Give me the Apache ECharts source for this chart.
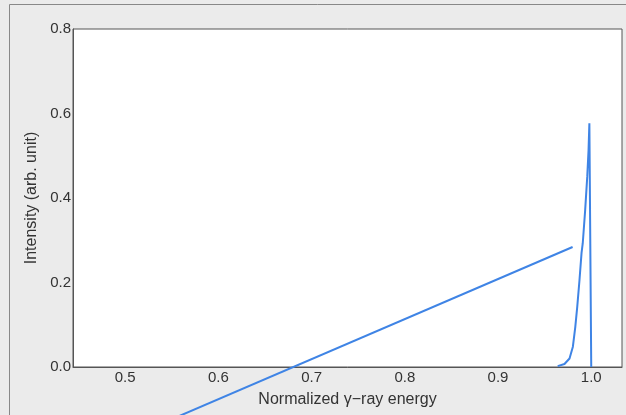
<!DOCTYPE html>
<html>
<head>
<meta charset="utf-8">
<script src="https://cdn.jsdelivr.net/npm/echarts@6/dist/echarts.min.js"></script>
<style>
  html, body { margin: 0; padding: 0; background: #ebebeb; }
  #chart { width: 626px; height: 415px; }
</style>
</head>
<body>
<div id="chart"></div>
<script>
// tick labels
const xTicks = [0.5, 0.6, 0.7, 0.8, 0.9, 1.0]
const yTicks = [0.0, 0.2, 0.4, 0.6, 0.8]

// straight line (extends below the axis)
const lineX = [0.52, 0.98]
const lineY = [-0.152, 0.284]

// sharp peak near 1.0
const peakX = [0.964, 0.9713, 0.9767, 0.9803, 0.9829, 0.985, 0.9874, 0.9896, 0.9909, 0.9935, 0.9957, 0.9971, 0.998, 1.0]
const peakY = [0.002, 0.007, 0.02, 0.048, 0.095, 0.143, 0.206, 0.27, 0.293, 0.372, 0.45, 0.513, 0.577, 0.0]

const blue = '#3f84e5'
const chart = echarts.init(document.getElementById('chart'))

const option = {
  backgroundColor: '#ebebeb',
  animation: false,
  textStyle: { fontFamily: 'Liberation Sans' },
  graphic: [
    { type: 'line', shape: { x1: 9.5, y1: 4.5, x2: 626, y2: 4.5 }, style: { stroke: '#888', lineWidth: 1 } },
    { type: 'line', shape: { x1: 9.5, y1: 4.5, x2: 9.5, y2: 415 }, style: { stroke: '#888', lineWidth: 1 } }
  ],
  grid: {
    left: 73,
    right: 4,
    top: 29,
    bottom: 48,
    show: true,
    backgroundColor: '#fff',
    borderColor: '#555',
    borderWidth: 1
  },
  xAxis: {
    type: 'value',
    min: 0.444,
    max: 1.033,
    name: 'Normalized γ−ray energy',
    nameLocation: 'middle',
    nameGap: 25,
    nameTextStyle: { color: '#333', fontSize: 16 },
    axisLine: { lineStyle: { color: '#555', width: 1 } },
    axisTick: { show: false },
    splitLine: { show: false },
    axisLabel: {
      customValues: xTicks,
      color: '#333',
      fontSize: 15,
      margin: 3,
      formatter: v => v.toFixed(1)
    }
  },
  yAxis: {
    type: 'value',
    min: 0,
    max: 0.8,
    interval: 0.2,
    name: 'Intensity (arb. unit)',
    nameLocation: 'middle',
    nameGap: 32,
    nameTextStyle: { color: '#333', fontSize: 16 },
    axisLine: { show: true, lineStyle: { color: '#555', width: 1 } },
    axisTick: { show: false },
    splitLine: { show: false },
    axisLabel: {
      customValues: yTicks,
      color: '#333',
      fontSize: 15,
      margin: 2,
      formatter: v => v.toFixed(1)
    }
  },
  series: [
    {
      type: 'line',
      data: lineX.map((x, i) => [x, lineY[i]]),
      showSymbol: false,
      clip: false,
      lineStyle: { color: blue, width: 2 }
    },
    {
      type: 'line',
      data: peakX.map((x, i) => [x, peakY[i]]),
      showSymbol: false,
      lineStyle: { color: blue, width: 2 }
    }
  ]
}
chart.setOption(option)
</script>
</body>
</html>
